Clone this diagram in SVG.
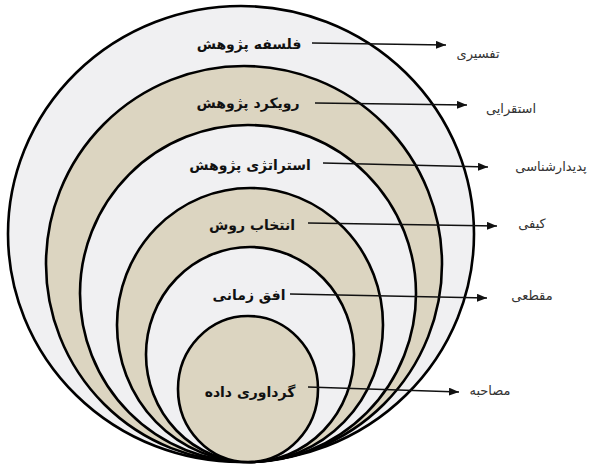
<svg xmlns="http://www.w3.org/2000/svg" width="591" height="464" viewBox="0 0 591 464">
<style>
.ring{stroke:#000;stroke-width:2.6}
.light{fill:#f0f0f2}
.tan{fill:#dcd5c1}
.lbl{font-family:"DejaVu Sans",sans-serif;font-weight:bold;font-size:14px;fill:#111;text-anchor:middle}
.out{font-family:"DejaVu Sans",sans-serif;font-size:13px;fill:#333;text-anchor:middle}
.conn{stroke:#111;stroke-width:1.3;fill:none;marker-end:url(#ah)}
</style>
<defs>
<marker id="ah" viewBox="0 0 10 8" refX="10" refY="4" markerWidth="10" markerHeight="8" markerUnits="userSpaceOnUse" orient="auto">
<path d="M0,0 L10,4 L0,8 Z" fill="#111"/>
</marker>
</defs>
<rect width="591" height="464" fill="#fff"/>
<g id="n1">
<ellipse class="ring light" cx="241" cy="234" rx="233" ry="228"/>
<text class="lbl" x="249" y="49">فلسفه پژوهش</text>
</g>
<g id="n2">
<ellipse class="ring tan" cx="244" cy="264" rx="198" ry="198"/>
<text class="lbl" x="248" y="108">رویکرد پژوهش</text>
</g>
<g id="n3">
<ellipse class="ring light" cx="248" cy="293.5" rx="168" ry="168.5"/>
<text class="lbl" x="250" y="170">استراتژی پژوهش</text>
</g>
<g id="n4">
<ellipse class="ring tan" cx="250" cy="325" rx="133" ry="137"/>
<text class="lbl" x="252" y="230">انتخاب روش</text>
</g>
<g id="n5">
<ellipse class="ring light" cx="250" cy="354.5" rx="104" ry="107.5"/>
<text class="lbl" x="249" y="300">افق زمانی</text>
</g>
<g id="n6">
<ellipse class="ring tan" cx="248" cy="389" rx="70" ry="73"/>
<text class="lbl" x="250" y="397">گرداوری داده</text>
</g>
<g id="t1"><text class="out" x="478" y="58">تفسیری</text></g>
<g id="t2"><text class="out" x="511" y="113">استقرایی</text></g>
<g id="t3"><text class="out" x="551" y="171">پدیدارشناسی</text></g>
<g id="t4"><text class="out" x="532" y="228">کیفی</text></g>
<g id="t5"><text class="out" x="532" y="300">مقطعی</text></g>
<g id="t6"><text class="out" x="490" y="395">مصاحبه</text></g>
<g id="connectors">
<line class="conn" x1="312" y1="43" x2="446" y2="45"/>
<line class="conn" x1="315" y1="103" x2="467" y2="105"/>
<line class="conn" x1="323" y1="163" x2="488" y2="167"/>
<line class="conn" x1="308" y1="223" x2="497" y2="226"/>
<line class="conn" x1="290" y1="294" x2="487" y2="298"/>
<line class="conn" x1="308" y1="387" x2="459" y2="392"/>
</g>
</svg>
